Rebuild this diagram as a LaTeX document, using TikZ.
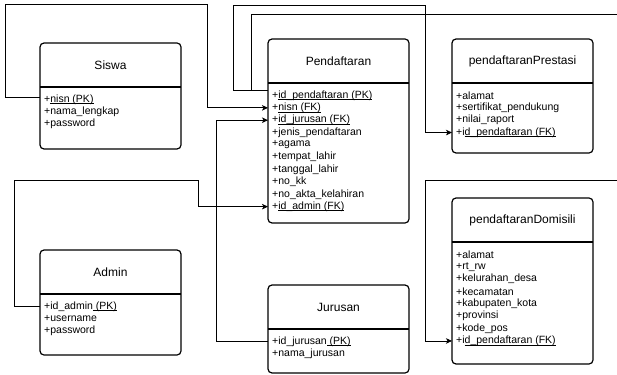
\documentclass[tikz,border=0pt]{standalone}
\usepackage{fontspec}
\setmainfont{Liberation Sans}
\usetikzlibrary{arrows.meta}

% underline close to the baseline, as the keys are drawn
\newcommand{\keyline}[1]{\leavevmode\sbox0{#1}\rlap{\rule[-1.5pt]{\wd0}{0.5pt}}\usebox0}

\tikzset{
  entity/.style={draw=black, rounded corners=4pt, line width=1.2pt, minimum width=141pt,
                 anchor=north west, outer sep=0pt, inner sep=0pt},
  divider/.style={line width=1.2pt},
  title/.style={font=\fontsize{12}{14}\selectfont},
  attr/.style={anchor=west, inner sep=0pt, font=\fontsize{10.5}{12}\selectfont},
  fk/.style={line width=0.8pt, -{Stealth[length=6pt,width=5.5pt,inset=1.5pt]}}
}

\begin{document}
\begin{tikzpicture}[x=1pt, y=-1pt]
  \useasboundingbox (0,0) rectangle (617,374);

  % Siswa
  \node[entity, minimum height=106pt] (siswa) at (40,43) {};
  \node[title] at ([yshift=-22pt]siswa.north) {Siswa};
  \draw[divider] ([yshift=-44pt]siswa.north west) -- ([yshift=-44pt]siswa.north east);
  \foreach \t [count=\i] in {+\keyline{nisn (PK)}, +nama\_lengkap, +password}
    \node[attr] (siswa-\i) at ([xshift=4pt, yshift={-44.15pt-12.35pt*\i}]siswa.north west) {\t};

  % Pendaftaran
  \node[entity, minimum height=184pt] (pendaftaran) at (268,39) {};
  \node[title] at ([yshift=-22pt]pendaftaran.north) {Pendaftaran};
  \draw[divider] ([yshift=-44pt]pendaftaran.north west) -- ([yshift=-44pt]pendaftaran.north east);
  \foreach \t [count=\i] in {+\keyline{id\_pendaftaran (PK)}, +\keyline{nisn (FK)},
      +\keyline{id\_jurusan (FK)}, +jenis\_pendaftaran, +agama, +tempat\_lahir,
      +tanggal\_lahir, +no\_kk, +no\_akta\_kelahiran, +\keyline{id\_admin (FK)}}
    \node[attr] (pendaftaran-\i) at ([xshift=4pt, yshift={-44.15pt-12.35pt*\i}]pendaftaran.north west) {\t};

  % pendaftaranPrestasi
  \node[entity, minimum height=114pt] (prestasi) at (452,39) {};
  \node[title] at ([yshift=-22pt]prestasi.north) {pendaftaranPrestasi};
  \draw[divider] ([yshift=-44pt]prestasi.north west) -- ([yshift=-44pt]prestasi.north east);
  \foreach \t [count=\i] in {+alamat, +sertifikat\_pendukung, +nilai\_raport,
      +i\keyline{d\_pendaftaran (FK)}}
    \node[attr] (prestasi-\i) at ([xshift=4pt, yshift={-44.15pt-12.35pt*\i}]prestasi.north west) {\t};

  % pendaftaranDomisili
  \node[entity, minimum height=166pt] (domisili) at (452,198) {};
  \node[title] at ([yshift=-22pt]domisili.north) {pendaftaranDomisili};
  \draw[divider] ([yshift=-44pt]domisili.north west) -- ([yshift=-44pt]domisili.north east);
  \foreach \t [count=\i] in {+alamat, +rt\_rw, +kelurahan\_desa, +kecamatan,
      +kabupaten\_kota, +provinsi, +kode\_pos, +i\keyline{d\_pendaftaran (FK)}}
    \node[attr] (domisili-\i) at ([xshift=4pt, yshift={-44.15pt-12.35pt*\i}]domisili.north west) {\t};

  % Admin
  \node[entity, minimum height=105pt] (admin) at (40,250) {};
  \node[title] at ([yshift=-22pt]admin.north) {Admin};
  \draw[divider] ([yshift=-44pt]admin.north west) -- ([yshift=-44pt]admin.north east);
  \foreach \t [count=\i] in {+id\_admin\keyline{ (PK)}, +username, +password}
    \node[attr] (admin-\i) at ([xshift=4pt, yshift={-44.15pt-12.35pt*\i}]admin.north west) {\t};

  % Jurusan
  \node[entity, minimum height=88pt] (jurusan) at (268,285) {};
  \node[title] at ([yshift=-22pt]jurusan.north) {Jurusan};
  \draw[divider] ([yshift=-44pt]jurusan.north west) -- ([yshift=-44pt]jurusan.north east);
  \foreach \t [count=\i] in {+id\_jurusan\keyline{ (PK)}, +nama\_jurusan}
    \node[attr] (jurusan-\i) at ([xshift=4pt, yshift={-44.15pt-12.35pt*\i}]jurusan.north west) {\t};

  % relations
  \draw[fk] ([yshift=2pt]siswa.west |- siswa-1) -- ++(-35,0) |- (207,4) |- (pendaftaran.west |- pendaftaran-2);
  \draw[fk] ([yshift=5pt]pendaftaran.west |- pendaftaran-1) -- ++(-35,0) |- (425,5) |- (prestasi.west |- prestasi-4);
  \draw[fk] ([yshift=5pt]pendaftaran.west |- pendaftaran-1) -- ++(-17,0) |- (640,14) |- (425,180) |- (domisili.west |- domisili-8);
  \draw[fk] (admin.west |- admin-1) -- ++(-26,0) |- (198,180) |- (pendaftaran.west |- pendaftaran-10);
  \draw[fk] (jurusan.west |- jurusan-1) -- ++(-52,0) |- (pendaftaran.west |- pendaftaran-3);
\end{tikzpicture}
\end{document}
